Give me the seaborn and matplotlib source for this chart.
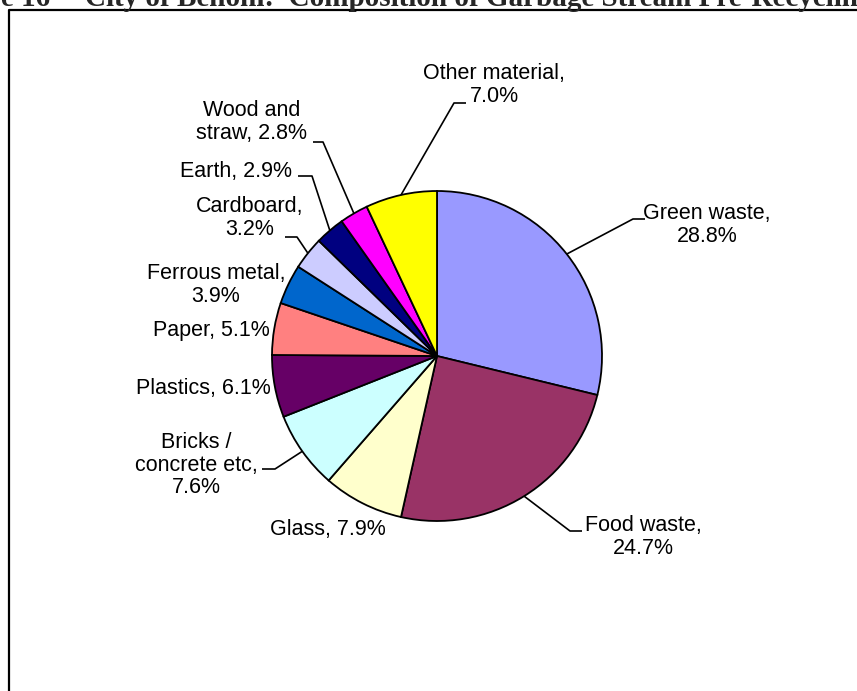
import matplotlib
matplotlib.use("Agg")
import matplotlib.pyplot as plt
import seaborn as sns
import numpy as np

# Garbage stream composition (%), clockwise from 12 o'clock
categories = ["Green waste", "Food waste", "Glass", "Bricks /\nconcrete etc",
              "Plastics", "Paper", "Ferrous metal", "Cardboard", "Earth",
              "Wood and\nstraw", "Other material"]
shares = [28.8, 24.7, 7.9, 7.6, 6.1, 5.1, 3.9, 3.2, 2.9, 2.8, 7.0]
colors = ["#9999FF", "#993366", "#FFFFCC", "#CCFFFF", "#660066", "#FF8080",
          "#0066CC", "#CCCCFF", "#000080", "#FF00FF", "#FFFF00"]

W, H = 857, 691
CX, CY, R = 437, 356, 165

# label layout in pixel coords (y down): text centre, label text, leader elbow/end
label_text = {
    "Green waste": "Green waste,\n28.8%",
    "Food waste": "Food waste,\n24.7%",
    "Glass": "Glass, 7.9%",
    "Bricks /\nconcrete etc": "Bricks /\nconcrete etc,\n7.6%",
    "Plastics": "Plastics, 6.1%",
    "Paper": "Paper, 5.1%",
    "Ferrous metal": "Ferrous metal,\n3.9%",
    "Cardboard": "Cardboard,\n3.2%",
    "Earth": "Earth, 2.9%",
    "Wood and\nstraw": "Wood and\nstraw, 2.8%",
    "Other material": "Other material,\n7.0%",
}
text_pos = {
    "Green waste": (707, 225),
    "Food waste": (643, 537),
    "Glass": (328, 530),
    "Bricks /\nconcrete etc": (196, 465),
    "Plastics": (203, 388),
    "Paper": (211, 330),
    "Ferrous metal": (216, 285),
    "Cardboard": (250, 218),
    "Earth": (236, 171),
    "Wood and\nstraw": (252, 122),
    "Other material": (494, 85),
}
leaders = {
    "Green waste": [(633, 219), (645, 219)],
    "Food waste": [(570, 531), (582, 531)],
    "Bricks /\nconcrete etc": [(275, 469), (262, 469)],
    "Cardboard": [(297, 237), (285, 237)],
    "Earth": [(312, 176), (298, 176)],
    "Wood and\nstraw": [(323, 142), (313, 142)],
    "Other material": [(454, 103), (466, 103)],
}

sns.set_theme(style="white")
plt.rcParams["font.family"] = ["Liberation Sans", "DejaVu Sans"]

fig = plt.figure(figsize=(W / 100, H / 100), dpi=100)
ax = fig.add_axes([0, 0, 1, 1])

wedges, _ = ax.pie(shares, colors=colors, startangle=90, counterclock=False,
                   center=(CX, H - CY), radius=R,
                   wedgeprops=dict(edgecolor="black", linewidth=1.3))
ax.set_xlim(0, W)
ax.set_ylim(0, H)
ax.set_aspect("equal")
ax.axis("off")

total = sum(shares)
cum = np.cumsum([0] + shares)
for i, cat in enumerate(categories):
    mid = 90 - 360 * (cum[i] + shares[i] / 2) / total
    ax_x = CX + R * np.cos(np.radians(mid))
    ax_y = CY - R * np.sin(np.radians(mid))
    if cat in leaders:
        pts = [(ax_x, ax_y)] + leaders[cat]
        ax.plot([p[0] for p in pts], [H - p[1] for p in pts],
                color="black", lw=1.2, solid_capstyle="butt")
    tx, ty = text_pos[cat]
    ax.text(tx, H - ty, label_text[cat], ha="center", va="center",
            multialignment="center", fontsize=15.5, linespacing=1.12,
            color="black")

# frame around the chart (runs off the right and bottom edges)
ax.plot([9, 9, W + 5], [-5, H - 10, H - 10], color="black", lw=1.6,
        clip_on=False)

# figure caption, cut off at the top edge as in the source page
ax.text(72, H - 6, "Figure 16 \u2013", ha="right", va="baseline",
        fontsize=21, fontweight="bold", family="Liberation Serif")
ax.text(85, H - 6, "City of Benoni:  Composition of Garbage Stream Pre-Recycling",
        ha="left", va="baseline", fontsize=21, fontweight="bold",
        family="Liberation Serif")

fig.savefig("out.png", dpi=100)
